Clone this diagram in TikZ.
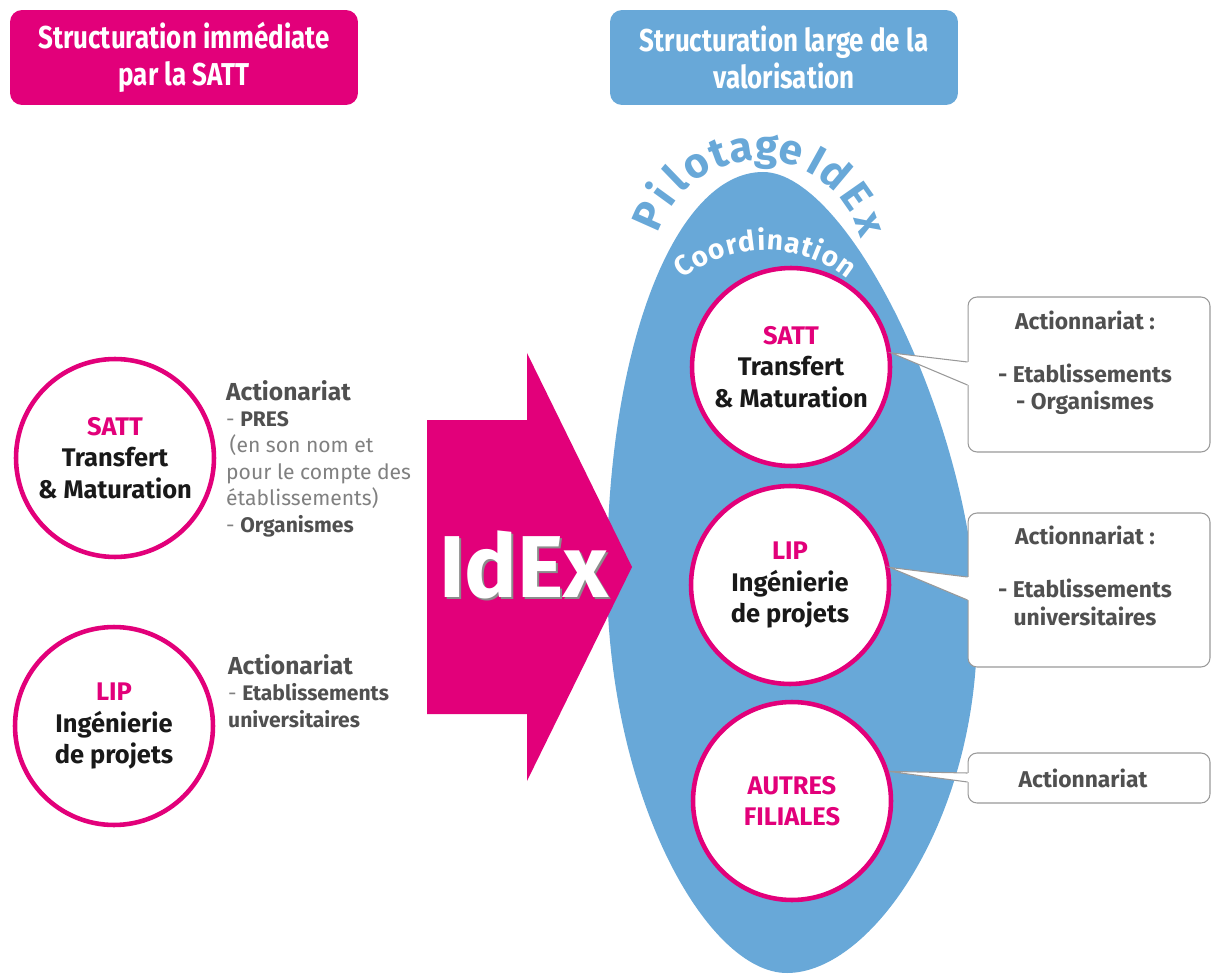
\documentclass[tikz,border=0pt]{standalone}
\usepackage{fontspec}
\setmainfont{Fira Sans}
\newfontfamily\headfont{Fira Sans}[FakeStretch=0.82]
\usetikzlibrary{calc,decorations.text}
\definecolor{sattpink}{RGB}{226,0,122}
\definecolor{valblue}{RGB}{104,168,216}
\definecolor{darkgray}{RGB}{80,80,80}
\definecolor{softgray}{RGB}{128,128,128}

\begin{document}
\begin{tikzpicture}[x=0.02cm,y=0.02cm,
    header/.style={rounded corners=0.24cm,minimum width=6.96cm,minimum height=1.9cm,text=white,align=center,
      font=\headfont\bfseries\fontsize{18}{21}\selectfont},
    entity/.style={circle,draw=sattpink,line width=2.6pt,fill=white,minimum size=3.96cm,inner sep=0pt,
      align=center,text=black!90,font=\bfseries\fontsize{14.5}{18}\selectfont},
    share/.style={anchor=base west,align=left,text=softgray,font=\fontsize{12}{15}\selectfont},
    bubble/.style={draw=gray!80,fill=white,line width=0.6pt,rounded corners=0.18cm,minimum width=4.84cm},
    bubtext/.style={anchor=base,align=center,text=darkgray,font=\bfseries\fontsize{13}{15.5}\selectfont},
    pointer/.style={draw=gray!80,line width=0.6pt},
    arcletter/.style={anchor=base,inner sep=0pt,text=valblue,font=\bfseries\fontsize{24}{24}\selectfont}]

  \useasboundingbox (0,0) rectangle (1217,975);

  % the two titles
  \node[header,fill=sattpink] (hsatt) at (184,917.5) {Structuration immédiate\\par la SATT};
  \node[header,fill=valblue] (hval) at (784,917.5) {Structuration large de la\\valorisation};

  % big oval (a bit egg shaped) and the IdEx arrow
  \fill[valblue] (763,803) .. controls (850,803) and (977,540) .. (977,345)
    .. controls (977,156) and (872,2) .. (787,2)
    .. controls (706,2) and (607,181) .. (607,400)
    .. controls (607,630) and (676,803) .. (763,803) -- cycle;
  \fill[sattpink] (427,555) -- (527,555) -- (527,622) -- (632,408) -- (527,194) -- (527,261) -- (427,261) -- cycle;
  \node[text=black!45,font=\bfseries\fontsize{50}{50}\selectfont] (idexshade) at (526,408) {IdEx};
  \node[text=white,font=\bfseries\fontsize{50}{50}\selectfont] (idex) at (524,410) {IdEx};

  % curved labels
  \foreach[count=\i] \ch/\ang in {P/156,i/144,l/134,o/122,t/110,a/99,g/86,e/74,I/61,d/50,E/35,x/20} {
    \node[arcletter,rotate=\ang-90] (pil\i) at ($(759,710)+(\ang:105)$) {\ch};
  }
  \path[decorate,decoration={text along path,text align=fit to path,text color=white,
      text={|\bfseries\fontsize{16}{16}\selectfont|Coordination}}]
    (765,594) ++(129:131) arc[start angle=129,end angle=51,radius=131];

  % left side
  \node[entity] (sattL) at (115,517) {\textcolor{sattpink}{SATT}\\Transfert\\\& Maturation};
  \node[entity] (lipL) at (114,249) {\textcolor{sattpink}{LIP}\\Ingénierie\\de projets};
  \node[share] (shsatt) at (220,443) {\textcolor{darkgray}{\bfseries\fontsize{14}{15}\selectfont Actionariat}\\
    - \textcolor{darkgray}{\bfseries PRES}\\
    \hspace{2pt}(en son nom et\\
    pour le compte des\\
    établissements)\\
    - \textcolor{darkgray}{\bfseries Organismes}};
  \node[share] (shlip) at (222,248) {\textcolor{darkgray}{\bfseries\fontsize{14}{15}\selectfont Actionariat}\\
    - \textcolor{darkgray}{\bfseries Etablissements}\\
    \textcolor{darkgray}{\bfseries universitaires}};

  % right side
  \node[entity] (sattR) at (791,608) {\textcolor{sattpink}{SATT}\\Transfert\\\& Maturation};
  \node[entity] (lipR) at (790,390) {\textcolor{sattpink}{LIP}\\Ingénierie\\de projets};
  \node[entity,text=sattpink] (autres) at (792,174) {AUTRES\\FILIALES};

  \node[bubble,minimum height=3.1cm] (bubsatt) at (1089,600.5) {};
  \node[bubble,minimum height=3.08cm] (bublip) at (1089,385) {};
  \node[bubble,minimum height=1cm] (bubautres) at (1089,197) {};
  \foreach \src/\bub/\ang/\ya/\yb in {sattR/bubsatt/8/613/590,lipR/bublip/10/398/375,autres/bubautres/17/202/193} {
    \fill[white] (\src.\ang) -- (\bub.west |- 0,\ya) -- ++(2,0) |- (\bub.west |- 0,\yb) -- cycle;
    \draw[pointer] (\bub.west |- 0,\ya) -- (\src.\ang) -- (\bub.west |- 0,\yb);
  }
  \node[bubtext] (txtsatt) at (1085,565) {Actionnariat :\\[15pt]- Etablissements\\- Organismes};
  \node[bubtext] (txtlip) at (1085,350) {Actionnariat :\\[15pt]- Etablissements\\universitaires};
  \node[bubtext] (txtautres) at (1083,188) {Actionnariat};
\end{tikzpicture}
\end{document}
